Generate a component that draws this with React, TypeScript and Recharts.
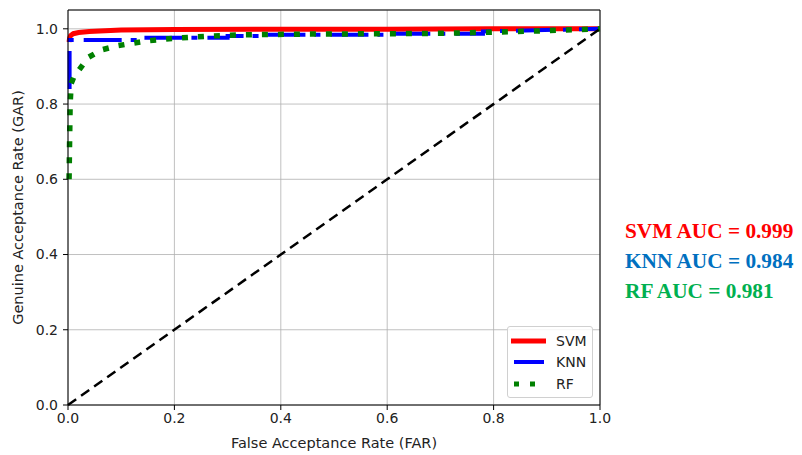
import {
  LineChart,
  Line,
  XAxis,
  YAxis,
  CartesianGrid,
  ReferenceLine,
  Label,
} from "recharts";

// ROC points (FAR on x, GAR on y)
const svmFar = [0.002, 0.003, 0.005, 0.01, 0.02, 0.04, 0.07, 0.1, 0.2, 0.4, 0.6, 0.8, 1.0];
const svmGar = [0.965, 0.975, 0.982, 0.987, 0.99, 0.993, 0.995, 0.997, 0.998, 0.999, 0.999, 1.0, 1.0];

const knnFar = [0.003, 0.003, 0.14, 0.14, 0.3, 0.3, 0.37, 0.37, 0.6, 0.6, 0.78, 0.78, 1.0];
const knnGar = [0.84, 0.97, 0.97, 0.976, 0.976, 0.981, 0.981, 0.984, 0.984, 0.987, 0.987, 0.993, 1.0];

const rfFar = [0.002, 0.004, 0.006, 0.012, 0.021, 0.038, 0.063, 0.093, 0.123, 0.15, 0.2, 0.27, 0.33, 0.45, 0.6, 0.7, 0.8, 0.9, 1.0];
const rfGar = [0.6, 0.8, 0.855, 0.875, 0.891, 0.924, 0.944, 0.955, 0.962, 0.968, 0.975, 0.981, 0.984, 0.986, 0.987, 0.988, 0.991, 0.995, 1.0];

const chanceFar = [0, 1];
const chanceGar = [0, 1];

const xTicks = [0, 0.2, 0.4, 0.6, 0.8, 1.0];
const yTicks = [0, 0.2, 0.4, 0.6, 0.8, 1.0];

const aucLabels = ["SVM AUC = 0.999", "KNN AUC = 0.984", "RF AUC = 0.981"];
const aucColors = ["#ff0000", "#0070c0", "#00b050"];

const toPoints = (xs: number[], ys: number[]) => xs.map((x, i) => ({ x, y: ys[i] }));

const svmData = toPoints(svmFar, svmGar);
const knnData = toPoints(knnFar, knnGar);
const rfData = toPoints(rfFar, rfGar);
const chanceData = toPoints(chanceFar, chanceGar);

const FONT = "'DejaVu Sans', sans-serif";

// matplotlib-style legend box, sits over the lower right of the plot
const LegendBox = () => {
  const rows = [
    { name: "SVM", color: "#ff0000", width: 5, dash: undefined, x1: 2, x2: 37 },
    { name: "KNN", color: "#0000ff", width: 4, dash: undefined, x1: 5, x2: 35 },
    { name: "RF", color: "#008000", width: 5, dash: "5 11", x1: 5, x2: 37 },
  ];
  return (
    <div
      style={{
        position: "absolute",
        left: 507,
        top: 326,
        width: 86,
        height: 72,
        border: "1px solid #d0d0d0",
        borderRadius: 3,
        background: "rgba(255,255,255,0.85)",
        fontFamily: FONT,
        fontSize: 14,
        color: "#222",
        boxSizing: "border-box",
        paddingTop: 3,
      }}
    >
      {rows.map((r) => (
        <div key={r.name} style={{ display: "flex", alignItems: "center", height: 21.5 }}>
          <svg width={42} height={10} style={{ marginLeft: 1 }}>
            <line
              x1={r.x1}
              x2={r.x2}
              y1={5}
              y2={5}
              stroke={r.color}
              strokeWidth={r.width}
              strokeDasharray={r.dash}
            />
          </svg>
          <span style={{ marginLeft: 5 }}>{r.name}</span>
        </div>
      ))}
    </div>
  );
};

export default function App() {
  return (
    <div style={{ position: "relative", width: 802, height: 455, background: "#fff" }}>
      <style>{"body{margin:0}"}</style>
      <LineChart
        width={802}
        height={455}
        margin={{ top: 10, right: 202, bottom: 5, left: 0 }}
      >
        <CartesianGrid stroke="#b0b0b0" strokeWidth={0.8} />
        <XAxis
          type="number"
          dataKey="x"
          domain={[0, 1]}
          ticks={xTicks}
          tickFormatter={(v: number) => v.toFixed(1)}
          stroke="#000"
          tick={{ fill: "#222", fontSize: 14, fontFamily: FONT }}
          tickSize={5}
          tickMargin={3}
          height={45}
        >
          <Label
            value="False Acceptance Rate (FAR)"
            position="insideBottom"
            offset={2}
            fill="#222"
            style={{ fontSize: 14.5, fontFamily: FONT }}
          />
        </XAxis>
        <YAxis
          type="number"
          dataKey="y"
          domain={[0, 1.05]}
          ticks={yTicks}
          tickFormatter={(v: number) => v.toFixed(1)}
          stroke="#000"
          tick={{ fill: "#222", fontSize: 14, fontFamily: FONT }}
          tickSize={5}
          tickMargin={5}
          width={68}
        >
          <Label
            value="Genuine Acceptance Rate (GAR)"
            position="insideLeft"
            angle={-90}
            offset={18}
            fill="#222"
            style={{ fontSize: 14.5, fontFamily: FONT, textAnchor: "middle" }}
          />
        </YAxis>
        <ReferenceLine x={1} stroke="#000" strokeWidth={1} />
        <ReferenceLine y={1.05} stroke="#000" strokeWidth={1} />
        <Line
          data={svmData}
          dataKey="y"
          name="SVM"
          stroke="#ff0000"
          strokeWidth={5}
          dot={false}
          activeDot={false}
          type="linear"
          isAnimationActive={false}
        />
        <Line
          data={knnData}
          dataKey="y"
          name="KNN"
          stroke="#0000ff"
          strokeWidth={4}
          strokeDasharray="38 9 6 10"
          dot={false}
          activeDot={false}
          type="linear"
          isAnimationActive={false}
        />
        <Line
          data={rfData}
          dataKey="y"
          name="RF"
          stroke="#008000"
          strokeWidth={5.5}
          strokeDasharray="6 10"
          dot={false}
          activeDot={false}
          type="linear"
          isAnimationActive={false}
        />
        <Line
          data={chanceData}
          dataKey="y"
          name="chance"
          stroke="#000"
          strokeWidth={2.5}
          strokeDasharray="10 6"
          dot={false}
          activeDot={false}
          type="linear"
          isAnimationActive={false}
        />
      </LineChart>
      <LegendBox />
      {aucLabels.map((t, i) => (
        <div
          key={t}
          style={{
            position: "absolute",
            left: 625,
            top: 221 + i * 30,
            fontFamily: "'Liberation Serif', serif",
            fontWeight: "bold",
            fontSize: 21.3,
            lineHeight: "21px",
            color: aucColors[i],
            whiteSpace: "nowrap",
          }}
        >
          {t}
        </div>
      ))}
    </div>
  );
}
